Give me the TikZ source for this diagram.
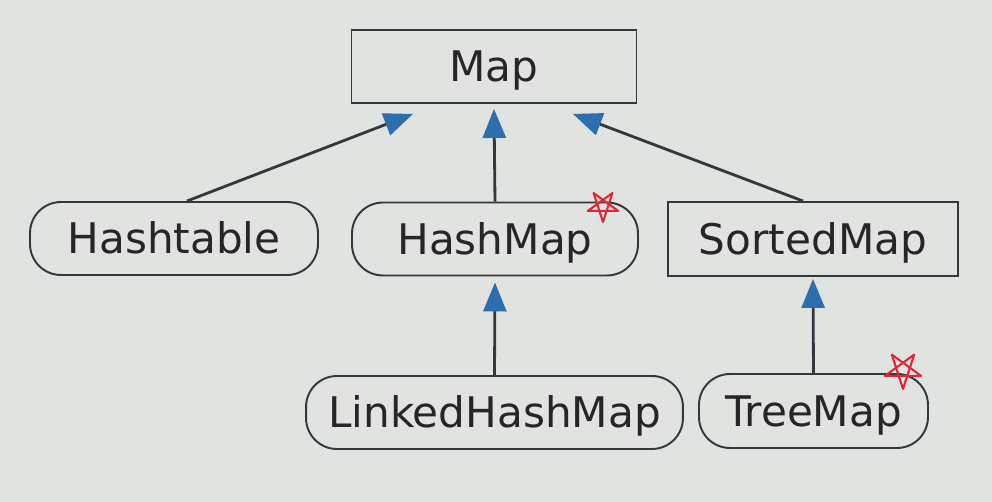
\documentclass[tikz,border=0pt]{standalone}
\usepackage{fontspec}
\setmainfont{DejaVu Sans}
\usetikzlibrary{arrows.meta,positioning}
\definecolor{bgcol}{RGB}{225,227,224}
\definecolor{linecol}{RGB}{52,56,60}
\definecolor{tipblue}{RGB}{45,110,175}
\definecolor{penred}{RGB}{222,40,55}
\begin{document}
\begin{tikzpicture}[
    x=0.02cm, y=-0.02cm,
    cls/.style={rectangle, draw=linecol, line width=1.1pt, text=black!85, inner sep=0pt,
        minimum height=1.46cm, font=\fontsize{24}{28}\selectfont, text height=0.62cm, text depth=0pt},
    iface/.style={cls},
    impl/.style={cls, rounded corners=0.62cm},
    extends/.style={-{Triangle[length=0.58cm, width=0.46cm, color=tipblue]}, linecol, line width=1.6pt},
    starmark/.style={penred, line width=1.2pt, line join=round}
]
    % Background
    \fill[bgcol] (0,0) rectangle (992,502);

    % Classes
    \node[iface, minimum width=5.7cm] (map) at (494,66.5) {Map};
    \node[impl, minimum width=5.76cm] (hashtable) at (174,238.5) {Hashtable};
    \node[impl, minimum width=5.72cm] (hashmap) at (495,239) {HashMap};
    \node[iface, minimum width=5.8cm, minimum height=1.48cm] (sortedmap) at (813,239) {SortedMap};
    \node[impl, minimum width=7.54cm] (linked) at (494.5,412.5) {LinkedHashMap};
    \node[impl, minimum width=4.58cm, minimum height=1.48cm] (treemap) at (813.5,411) {TreeMap};

    % Arrows
    \draw[extends] ([xshift=0.26cm]hashtable.north) -- ([xshift=-1.62cm, yshift=-0.2cm]map.south);
    \draw[extends] (hashmap.north) -- ([yshift=-0.1cm]map.south);
    \draw[extends] ([xshift=-0.2cm]sortedmap.north) -- ([xshift=1.58cm, yshift=-0.2cm]map.south);
    \draw[extends] (linked.north) -- ([yshift=-0.12cm]hashmap.south);
    \draw[extends] (treemap.north) -- ([yshift=-0.04cm]sortedmap.south);

    % Stars
    \coordinate (starhm) at (603,206);
    \coordinate (startm) at (903,370);
    \draw[starmark] (starhm) +(90:16) -- +(234:16) -- +(18:16) -- +(162:16) -- +(306:16) -- cycle;
    \draw[starmark] (startm) +(90:19) -- +(234:19) -- +(18:19) -- +(162:19) -- +(306:19) -- cycle;
\end{tikzpicture}
\end{document}
